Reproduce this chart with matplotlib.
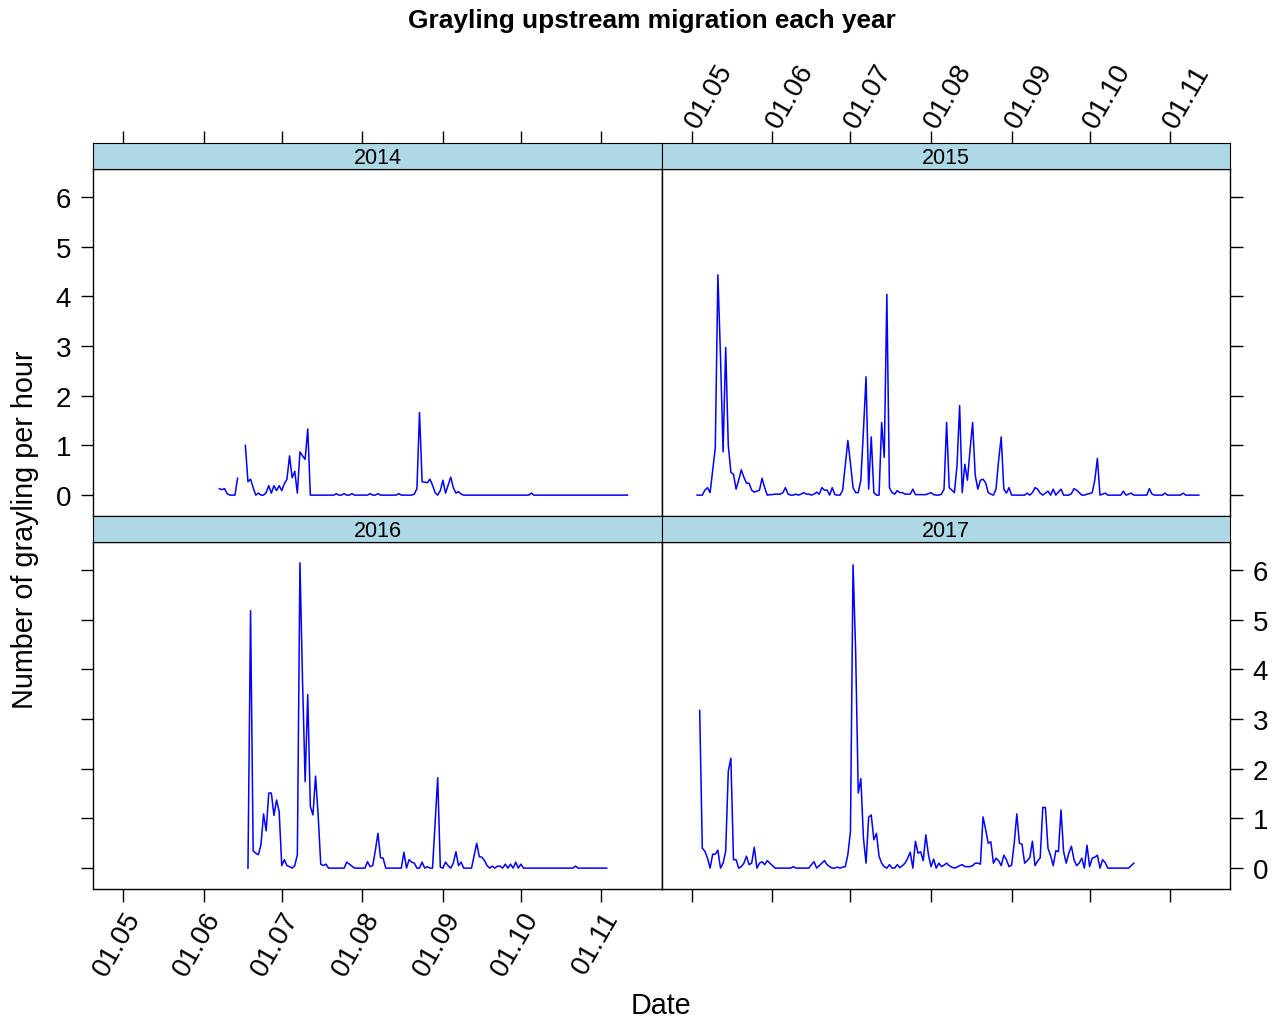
import numpy as np
import pandas as pd
import matplotlib
matplotlib.use("Agg")
import matplotlib.pyplot as plt

plt.rcParams['font.family'] = ['Liberation Sans', 'DejaVu Sans']

# daily counts (fish per hour), first day given as MM-DD; nan = missing day
start_2014 = '06-07'
vals_2014 = [0.13, 0.11, 0.13, 0.03, 0, 0, 0, 0.34, np.nan, np.nan,
             1.0, 0.27, 0.32, 0.15, 0, 0.04, 0, 0, 0.05, 0.19, 0.04, 0.19, 0.09, 0.19,
             0.09, 0.23, 0.32, 0.79, 0.35, 0.48, 0.04, 0.87, 0.79, 0.72, 1.33, 0,
             0, 0, 0, 0, 0, 0, 0, 0, 0, 0.03, 0, 0, 0.03, 0, 0, 0.03, 0, 0, 0, 0,
             0, 0, 0.03, 0, 0, 0.03, 0, 0, 0, 0, 0, 0, 0, 0.03, 0, 0, 0, 0, 0,
             0.02, 0.13,
             1.66, 0.27, 0.26, 0.25, 0.32, 0.2, 0.05, 0, 0.09, 0.3, 0.04, 0.2, 0.36,
             0.15, 0.04, 0.07, 0.02,
             0, 0, 0, 0, 0, 0, 0, 0, 0, 0, 0, 0, 0, 0, 0, 0, 0, 0, 0, 0, 0, 0, 0,
             0, 0, 0, 0.04,
             0, 0, 0, 0, 0, 0, 0, 0, 0, 0, 0, 0, 0, 0, 0, 0, 0, 0, 0, 0, 0, 0, 0,
             0, 0, 0, 0, 0, 0, 0, 0, 0, 0, 0, 0, 0, 0]

start_2015 = '05-03'
vals_2015 = [0, 0, 0, 0.1, 0.15, 0.05, 0.5, 0.95, 4.43, 2.8, 0.87, 2.97, 1.0, 0.46,
             0.42, 0.12, 0.3, 0.51, 0.36, 0.24, 0.24, 0.1, 0.06, 0.08, 0.1, 0.34,
             0.15, 0, 0.01, 0.01, 0.02, 0.02, 0.02, 0.05, 0.15, 0.02, 0, 0, 0.02, 0,
             0.02, 0.05, 0.02, 0.02, 0, 0.02, 0.06, 0.02, 0.15, 0.1, 0.1, 0, 0.15,
             0.01, 0, 0, 0.1, 0.6, 1.1, 0.64, 0.15, 0.05, 0.05, 0.3, 1.3, 2.38, 0.12,
             1.17, 0.05, 0, 0, 1.46, 0.76, 4.04, 0.15, 0.05, 0.02, 0.09, 0.05, 0.05,
             0.02, 0.02, 0.02, 0.12, 0.01, 0.01, 0.01, 0.01, 0.01, 0.03, 0.05, 0.01,
             0, 0, 0.02, 0.12, 1.46, 0.15, 0.1, 0.05, 0.6, 1.8, 0.05, 0.62, 0.3, 0.9,
             1.46, 0.4, 0.12, 0.3, 0.32, 0.25, 0.05, 0.02, 0, 0.12, 0.7, 1.17, 0.12,
             0.04, 0.15, 0, 0, 0, 0, 0, 0, 0.04, 0, 0.05, 0.15, 0.12, 0.04, 0, 0.04,
             0.08, 0, 0.12, 0, 0.06, 0.12, 0, 0, 0, 0.03, 0.13, 0.1, 0.05, 0, 0, 0.02,
             0.03, 0.05, 0.3, 0.74, 0, 0.02, 0.04, 0, 0, 0, 0, 0, 0, 0.08, 0, 0.02,
             0.04, 0, 0, 0, 0, 0, 0, 0.13, 0.02, 0, 0, 0, 0, 0.04, 0, 0, 0, 0, 0, 0,
             0.04, 0, 0, 0, 0, 0, 0]

start_2016 = '06-18'
vals_2016 = [0, 5.18, 0.35, 0.3, 0.27, 0.47, 1.09, 0.75, 1.51, 1.51, 1.06, 1.37,
             1.14, 0.05, 0.17, 0.05, 0.03, 0, 0.05, 0.27, 6.14, 3.76, 1.74, 3.49,
             1.24, 1.07, 1.85, 1.07, 0.08, 0.05, 0.08, 0, 0, 0, 0, 0, 0, 0, 0.12,
             0.08, 0.04, 0, 0, 0, 0, 0, 0.13, 0.03, 0.05, 0.35, 0.7, 0.21, 0.2, 0, 0,
             0, 0, 0, 0, 0, 0.32, 0, 0.17, 0.12, 0.1, 0, 0, 0.12, 0, 0.03, 0, 0, 0.9,
             1.82, 0.02, 0, 0.12, 0.05, 0, 0.1, 0.33, 0.05, 0.12, 0, 0, 0, 0, 0.25,
             0.5, 0.23, 0.22, 0.15, 0.05, 0, 0.04, 0, 0.04, 0.04, 0, 0.08, 0, 0.08,
             0, 0.12, 0, 0.08, 0, 0, 0, 0, 0, 0, 0, 0, 0, 0, 0, 0, 0, 0, 0, 0, 0, 0,
             0, 0, 0.04, 0, 0, 0, 0, 0, 0, 0, 0, 0, 0, 0, 0]

start_2017 = '05-04'
vals_2017 = [3.17, 0.4, 0.34, 0.2, 0, 0.28, 0.28, 0.36, 0, 0.1, 0.34, 1.95, 2.21,
             0.17, 0.17, 0, 0.03, 0.1, 0.24, 0.07, 0.1, 0.42, 0, 0.1, 0.13, 0.07,
             0.15, 0.1, 0.05, 0, 0, 0, 0, 0, 0, 0, 0.03, 0, 0, 0, 0, 0, 0, 0.07,
             0.13, 0, 0.05, 0.1, 0.15, 0.07, 0.03, 0, 0, 0.02, 0, 0.02, 0.03, 0.27,
             0.74, 6.1, 4.36, 1.51, 1.8, 0.6, 0.1, 1.02, 1.07, 0.57, 0.7, 0.24, 0.1,
             0.03, 0, 0.07, 0, 0, 0.07, 0.01, 0.05, 0.1, 0.2, 0.32, 0, 0.54, 0.3,
             0.33, 0.15, 0.67, 0.27, 0.03, 0.18, 0, 0.1, 0.03, 0.06, 0.1, 0.05, 0.02,
             0, 0.02, 0.05, 0.07, 0.03, 0.03, 0.03, 0.05, 0.1, 0.1, 0.08, 1.03, 0.78,
             0.5, 0.53, 0.1, 0.2, 0.15, 0.05, 0.26, 0.17, 0.03, 0.06, 0.5, 1.09, 0.5,
             0.48, 0.1, 0.15, 0.21, 0.54, 0.05, 0.14, 0.21, 1.22, 1.22, 0.4, 0.25,
             0.05, 0.35, 0.33, 1.17, 0.33, 0.1, 0.3, 0.44, 0.17, 0.05, 0.1, 0.2, 0,
             0.46, 0.03, 0.2, 0.22, 0.26, 0, 0.17, 0.11, 0, 0, 0, 0, 0, 0, 0, 0, 0,
             0.05, 0.1]

years = ['2014', '2015', '2016', '2017']
starts = [start_2014, start_2015, start_2016, start_2017]
series = [vals_2014, vals_2015, vals_2016, vals_2017]

month_ticks = [5, 6, 7, 8, 9, 10, 11]
y_ticks = [0, 1, 2, 3, 4, 5, 6]

# all years drawn on one common calendar
base = '2015-'
xmin = pd.Timestamp('2015-04-19 12:00')
xmax = pd.Timestamp('2015-11-24 05:00')
ylo, yhi = -0.42, 6.56
tick_pos = [pd.Timestamp(2015, m, 1) for m in month_ticks]
tick_lab = ['01.%02d' % m for m in month_ticks]

W, H = 1273, 1020
fig = plt.figure(figsize=(W / 100, H / 100), dpi=100)

strip_col = '#add8e6'
left_x = [93.3, 662]
pw = 568.5
rows = [(170, 517, 144), (543, 890, 517)]  # plot top, plot bottom, strip top
tick_fs = 20
tl = 9

for i, (yr, st, v) in enumerate(zip(years, starts, series)):
    r, c = divmod(i, 2)
    ptop, pbot, stop = rows[r]
    x0 = left_x[c]
    ax = fig.add_axes([x0 / W, 1 - pbot / H, pw / W, (pbot - ptop) / H])
    sax = fig.add_axes([x0 / W, 1 - ptop / H, pw / W, (ptop - stop) / H])

    d = pd.date_range(base + st, periods=len(v), freq='D')
    ax.plot(d, v, color='#0000ff', lw=1.1)
    ax.set_xlim(xmin, xmax)
    ax.set_ylim(ylo, yhi)
    ax.set_xticks(tick_pos)
    ax.set_xticklabels(tick_lab)
    ax.set_yticks(y_ticks)

    ax.tick_params(axis='y', pad=7)
    ax.tick_params(direction='out', length=tl, width=1, labelsize=tick_fs,
                   bottom=(r == 1), labelbottom=(r == 1 and c == 0),
                   top=False, labeltop=False,
                   left=(c == 0), labelleft=(r == 0 and c == 0),
                   right=(c == 1), labelright=(r == 1 and c == 1))
    for lab in ax.get_xticklabels():
        lab.set_rotation(60)
        lab.set_ha('right')
        lab.set_va('top')
        lab.set_rotation_mode('anchor')
    for s in ax.spines.values():
        s.set_linewidth(1)

    sax.set_facecolor(strip_col)
    sax.set_xlim(xmin, xmax)
    sax.set_ylim(0, 1)
    sax.set_yticks([])
    sax.set_xticks(tick_pos)
    sax.set_xticklabels(tick_lab)
    sax.tick_params(direction='out', length=tl, width=1, labelsize=tick_fs,
                    bottom=False, labelbottom=False,
                    top=(r == 0), labeltop=(r == 0 and c == 1))
    for lab in sax.get_xticklabels():
        lab.set_rotation(60)
        lab.set_ha('left')
        lab.set_va('center')
        lab.set_rotation_mode('anchor')
    sax.text(0.5, 0.45, yr, transform=sax.transAxes, ha='center', va='center',
             fontsize=15.5)

fig.text(651.5 / W, 1 - 21 / H, 'Grayling upstream migration each year',
         ha='center', va='center', fontsize=18.9, fontweight='bold')
fig.text(661 / W, 1 - 1006 / H, 'Date', ha='center', va='center', fontsize=20.7)
fig.text(25 / W, 1 - 530 / H, 'Number of grayling per hour', ha='center',
         va='center', rotation=90, fontsize=20.7)

fig.savefig('out.png', dpi=100)
